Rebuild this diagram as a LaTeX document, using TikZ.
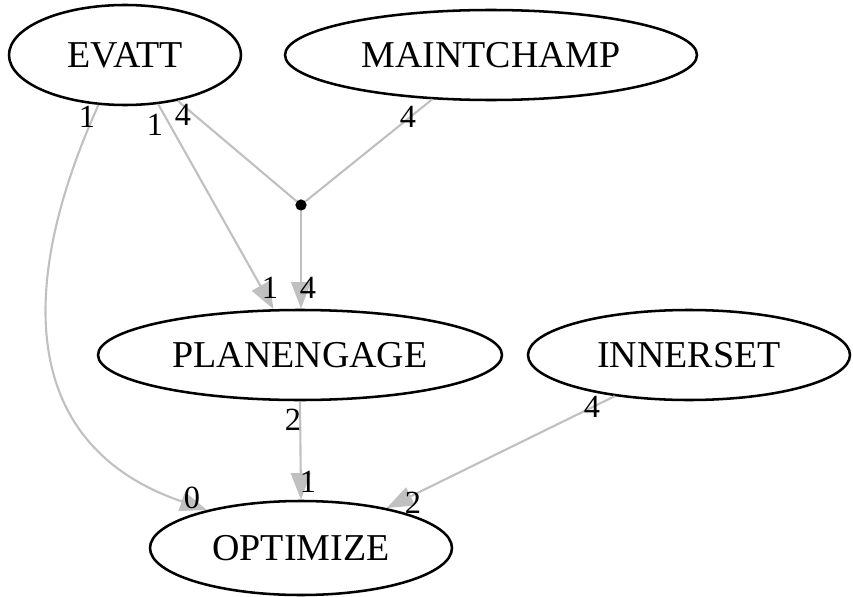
\documentclass[tikz,border=0pt]{standalone}
\usepackage{fontspec}
\setmainfont{Liberation Serif}
\usetikzlibrary{shapes.geometric,arrows.meta}
\definecolor{edge gray}{RGB}{192,192,192}
\colorlet{node edge}{black}
\tikzset{task/.style={ellipse, draw=node edge, line width=1.8pt, inner sep=0pt,
      font=\fontsize{27}{32}\selectfont},
    joint/.style={circle, fill=black, inner sep=0pt, minimum size=8pt},
    link/.style={draw=edge gray, line width=1.5pt},
    linkarrow/.style={link, -{Triangle[length=19pt,width=14pt,fill=edge gray]}},
    lbl/.style={inner sep=0pt, font=\fontsize{23}{27}\selectfont}}

\begin{document}
\begin{tikzpicture}
    \useasboundingbox (0,0) rectangle (21.325,-14.925);
    % tasks
    \node[task, minimum width=5.8cm,  minimum height=2.5cm]  (evatt)      at (3.125,-1.375)  {EVATT};
    \node[task, minimum width=10.3cm, minimum height=2.25cm] (maintchamp) at (12.275,-1.375) {MAINTCHAMP};
    \node[task, minimum width=10.1cm, minimum height=2.25cm] (planengage) at (7.5,-8.875)    {PLANENGAGE};
    \node[task, minimum width=8.05cm, minimum height=2.25cm] (innerset)   at (17.225,-8.875) {INNERSET};
    \node[task, minimum width=7.55cm, minimum height=2.35cm] (optimize)   at (7.525,-13.7)   {OPTIMIZE};
    \node[joint] (dot) at (7.525,-5.125) {};
    % links
    \draw[linkarrow] (evatt.-118.4) .. controls +(-2.2,-4.875) and +(-4.475,1.525) .. (optimize.158);
    \draw[linkarrow] (evatt.-56.3) -- (planengage.120.6);
    \draw[link] (evatt.-41.6) -- (dot);
    \draw[link] (maintchamp.-143.9) -- (dot);
    \draw[linkarrow] (dot) -- (dot |- planengage.north);
    \draw[linkarrow] (planengage.south) -- (optimize.north);
    \draw[linkarrow] (innerset.-151.2) -- (optimize.25);
    % weights
    \node[lbl] (w1) at (2.175,-2.925)  {1};
    \node[lbl] (w2) at (3.875,-3.125)  {1};
    \node[lbl] (w3) at (4.575,-2.875)  {4};
    \node[lbl] (w4) at (10.2,-2.925)   {4};
    \node[lbl] (w5) at (6.75,-7.2)     {1};
    \node[lbl] (w6) at (7.7,-7.2)      {4};
    \node[lbl] (w7) at (7.325,-10.5)   {2};
    \node[lbl] (w8) at (7.7,-12.05)    {1};
    \node[lbl] (w9) at (4.8,-12.45)    {0};
    \node[lbl] (w10) at (10.325,-12.575) {2};
    \node[lbl] (w11) at (14.8,-10.175)  {4};
\end{tikzpicture}
\end{document}
